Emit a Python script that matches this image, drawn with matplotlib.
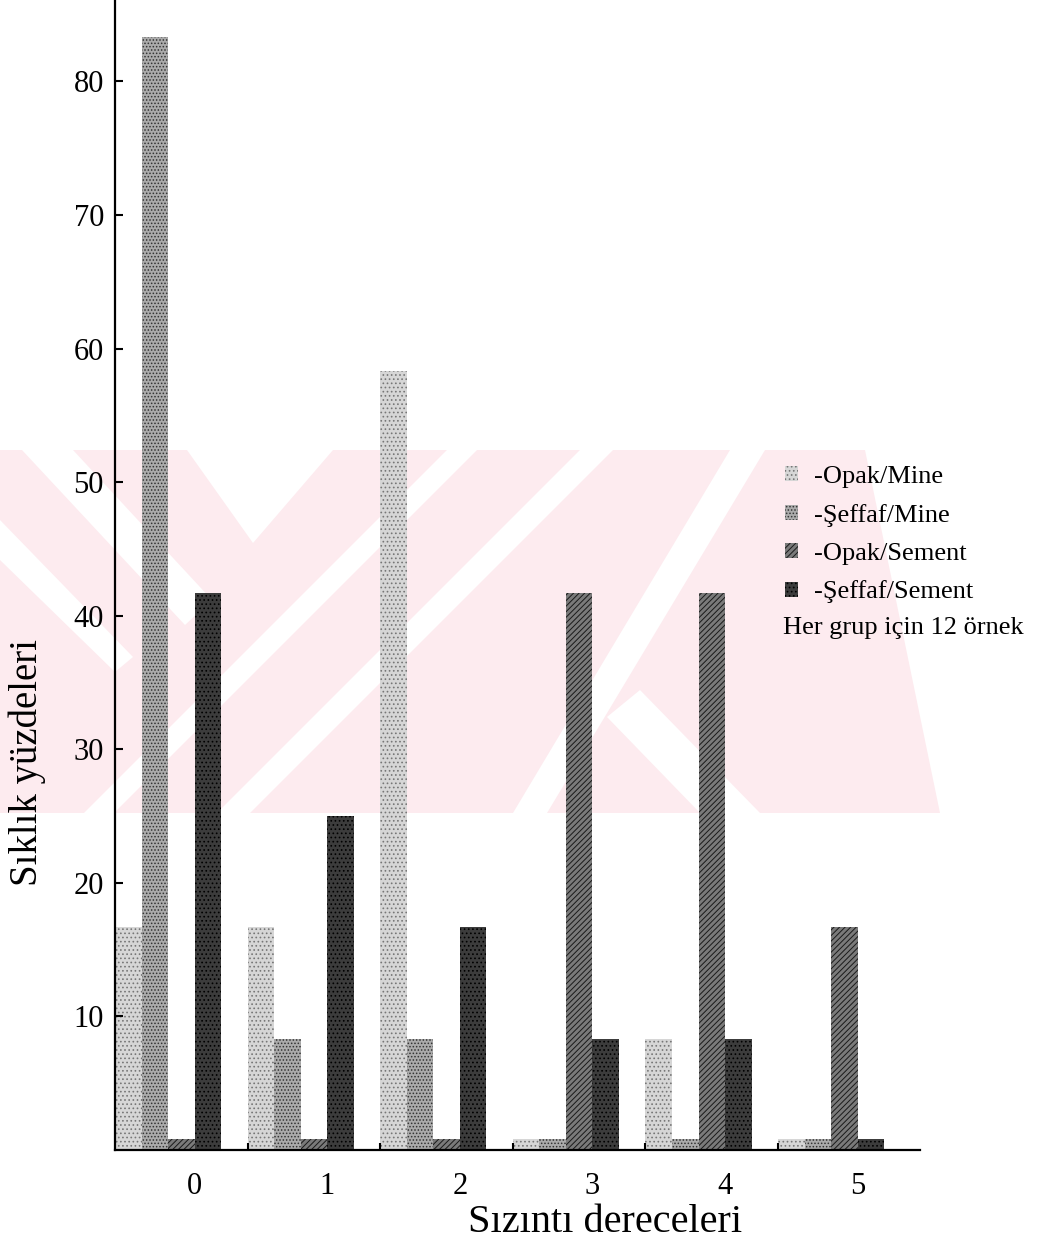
import matplotlib
matplotlib.use("Agg")
import matplotlib.pyplot as plt
from matplotlib.patches import Patch, Polygon
import numpy as np

plt.rcParams['font.family'] = ['Liberation Serif', 'DejaVu Serif']
plt.rcParams['hatch.linewidth'] = 0.7

# data
degrees = ['0', '1', '2', '3', '4', '5']
opak_mine = [16.7, 16.7, 58.3, 0.8, 8.3, 0.8]
seffaf_mine = [83.3, 8.3, 8.3, 0.8, 0.8, 0.8]
opak_sement = [0.8, 0.8, 0.8, 41.7, 41.7, 16.7]
seffaf_sement = [41.7, 25.0, 16.7, 8.3, 8.3, 0.8]
series_names = ['-Opak/Mine', '-Şeffaf/Mine', '-Opak/Sement', '-Şeffaf/Sement']
note = 'Her grup için 12 örnek'

W, H = 1054, 1242
fig = plt.figure(figsize=(W / 100, H / 100), dpi=100)

# faint watermark behind the chart (pixel coords, y from top)
def px(pts):
    return [(x / W, 1 - y / H) for x, y in pts]

pink = '#fdebef'
fig.patches.append(Polygon(px([(0, 450), (865, 450), (940, 813), (0, 813)]),
                           closed=True, facecolor=pink, edgecolor='none',
                           transform=fig.transFigure, zorder=-10))
whites = [
    [(22, 450), (73, 450), (212, 600), (185, 625)],
    [(187, 450), (333, 450), (253, 543)],
    [(0, 520), (0, 560), (115, 672), (133, 657)],
    [(447, 450), (477, 450), (114, 813), (84, 813)],
    [(580, 450), (613, 450), (250, 813), (217, 813)],
    [(730, 450), (765, 450), (547, 813), (513, 813)],
    [(607, 717), (640, 690), (760, 813), (700, 813)],
]
for w in whites:
    fig.patches.append(Polygon(px(w), closed=True, facecolor='white',
                               edgecolor='none', transform=fig.transFigure, zorder=-9))

ax = fig.add_axes([115 / W, 92 / H, 805 / W, 1150 / H])
ax.patch.set_alpha(0)

x = np.arange(len(degrees))
bw = 0.2
styles = [
    dict(color='#d6d6d6', edgecolor='#777777', hatch='....'),
    dict(color='#ababab', edgecolor='#333333', hatch='.....'),
    dict(color='#7a7a7a', edgecolor='#1a1a1a', hatch='//////'),
    dict(color='#3c3c3c', edgecolor='#000000', hatch='....'),
]
all_series = [opak_mine, seffaf_mine, opak_sement, seffaf_sement]
for k, (vals, st) in enumerate(zip(all_series, styles)):
    ax.bar(x + (k - 3) * bw, vals, width=bw, align='edge', linewidth=0,
           facecolor=st['color'], edgecolor=st['edgecolor'], hatch=st['hatch'])

ax.set_xlim(-0.6, 5.47)
ax.set_ylim(0, 86.1)
ax.spines['top'].set_visible(False)
ax.spines['right'].set_visible(False)
ax.spines['left'].set_linewidth(1.6)
ax.spines['bottom'].set_linewidth(1.6)

ax.set_yticks([10, 20, 30, 40, 50, 60, 70, 80])
ax.tick_params(axis='y', direction='in', length=6, width=1.5, labelsize=22, pad=8)
ax.set_xticks(x)
ax.set_xticklabels(degrees)
ax.tick_params(axis='x', which='major', length=0, labelsize=22, pad=16)
ax.set_xticks(x[1:] - 0.6, minor=True)
ax.tick_params(axis='x', which='minor', direction='in', length=5, width=1.5)

ax.set_xlabel('Sızıntı dereceleri', fontsize=29, va='top')
ax.xaxis.set_label_coords(0.609, -0.047)
ax.set_ylabel('Sıklık yüzdeleri', fontsize=28, va='center')
ax.yaxis.set_label_coords(-0.109, 0.337)

handles = [Patch(facecolor=st['color'], edgecolor=st['edgecolor'], hatch=st['hatch'],
                 linewidth=0) for st in styles]
fig.legend(handles, series_names, loc='upper left', bbox_to_anchor=(785 / W, 1 - 466 / H),
           frameon=False, fontsize=19, handlelength=0.5, handleheight=0.5,
           handletextpad=0.6, labelspacing=0.6, borderpad=0, borderaxespad=0)
fig.text(783 / W, 1 - 628 / H, note, fontsize=19, ha='left', va='center')

fig.savefig('out.png', dpi=100)
